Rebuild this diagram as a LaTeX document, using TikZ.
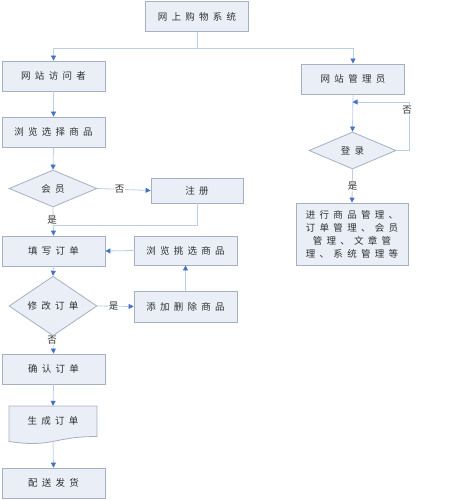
\documentclass[tikz,border=0pt]{standalone}
\usepackage{fontspec}
\setmainfont{Noto Sans CJK SC}
\newfontfamily\boxfont{Noto Sans CJK SC}[LetterSpace=45]
\usepackage{xcolor}
\definecolor{boxfill}{HTML}{E9EEF7}
\definecolor{boxdraw}{HTML}{A6B0C0}
\definecolor{linkline}{HTML}{BCCDE6}
\definecolor{tipblue}{HTML}{4472C4}
\definecolor{txt}{HTML}{303030}
\usepackage{tikz}
\usetikzlibrary{arrows.meta,shapes.geometric,calc}

\begin{document}
\begin{tikzpicture}[
  x=1pt,
  y=-1pt,
  box/.style={rectangle, draw=boxdraw, fill=boxfill, text=txt, line width=0.8pt, minimum width=103pt, minimum height=30pt, inner sep=0pt, font=\fontsize{9.5}{13}\boxfont},
  dia/.style={diamond, draw=boxdraw, fill=boxfill, text=txt, line width=0.8pt, minimum width=88pt, minimum height=37pt, inner sep=0pt, font=\fontsize{9.5}{13}\boxfont},
  lbl/.style={fill=white, text=txt, inner sep=1pt, font=\fontsize{9.5}{11}\selectfont},
  flow/.style={linkline, line width=0.8pt},
  flowarr/.style={flow, -{Triangle[length=5pt, width=5pt, color=tipblue]}},
]

\useasboundingbox (0,0) rectangle (449,500);

% Left column
\node[box] (sys)     at (197,16.5) {网上购物系统};
\node[box] (visitor) at (53.5,76)  {网站访问者};
\node[box] (browse)  at (53.5,132) {浏览选择商品};
\node[dia] (member)  at (53,188.5) {会员};
\node[box, minimum width=92pt, minimum height=25pt] (reg) at (197,190.5) {注册};
\node[box] (fill)    at (53.5,251) {填写订单};
\node[box, minimum height=29pt] (pick) at (185.5,250.5) {浏览挑选商品};
\node[dia, minimum height=38pt] (modify) at (53,306) {修改订单};
\node[box, minimum height=31pt] (adddel) at (185.5,306.5) {添加删除商品};
\node[box] (confirm) at (53.5,369) {确认订单};
\node[minimum width=88pt, minimum height=30pt, inner sep=0pt] (gen) at (53,421) {};
\node[box] (ship)    at (53.5,483) {配送发货};

% Document shape round "gen"
\draw[draw=boxdraw, fill=boxfill, line width=0.8pt]
  (9,406) -- (97,406) -- (97,436.5) .. controls (53,436.5) and (53,448) .. (9,441.5) -- cycle;
\node[text=txt, font=\fontsize{9.5}{13}\boxfont] at (gen) {生成订单};
\coordinate (genbot) at (53,441);

% Right column
\node[box] (admin) at (353,79) {网站管理员};
\node[dia, minimum width=87pt] (login) at (352.5,150.5) {登录};
\node[box, minimum width=112pt, minimum height=62pt, align=center] (mgmt) at (352,234)
  {进行商品管理、\\订单管理、会员\\管理、文章管\\理、系统管理等};

% Connectors
\coordinate (split) at (197,48);
\coordinate (join) at (53,225);
\coordinate (back) at (352.5,102);

\draw[flow] (sys.south) -- (split);
\draw[flowarr] (split) -| (visitor.north);
\draw[flowarr] (split) -| (admin.north);

\foreach \a/\b in {visitor/browse, browse/member, member/fill, fill/modify,
                   modify/confirm, admin/login, login/mgmt}
  \draw[flowarr] (\a.south) -- (\b.north);
\draw[flowarr] (adddel.north) -- (pick.south);

\draw[flowarr] (member.east) -- (reg.west) node[lbl, pos=0.42] {否};
\draw[flow] (reg.south) |- (join);
\draw[flowarr] (pick.west) -- (fill.east);
\draw[flowarr] (modify.east) -- (adddel.west) node[lbl, pos=0.45] {是};
\draw[flowarr] (confirm.south) -- (gen.north);
\draw[flowarr] (genbot) -- (ship.north);
\draw[flowarr] (login.east) -- (409,150.5) -- (409,102) -- (back);

% Labels on vertical connectors
\node[lbl] at (52,220) {是};
\node[lbl] at (52,340) {否};
\node[lbl] at (407,110) {否};
\node[lbl] at (352.5,186) {是};

\end{tikzpicture}
\end{document}
